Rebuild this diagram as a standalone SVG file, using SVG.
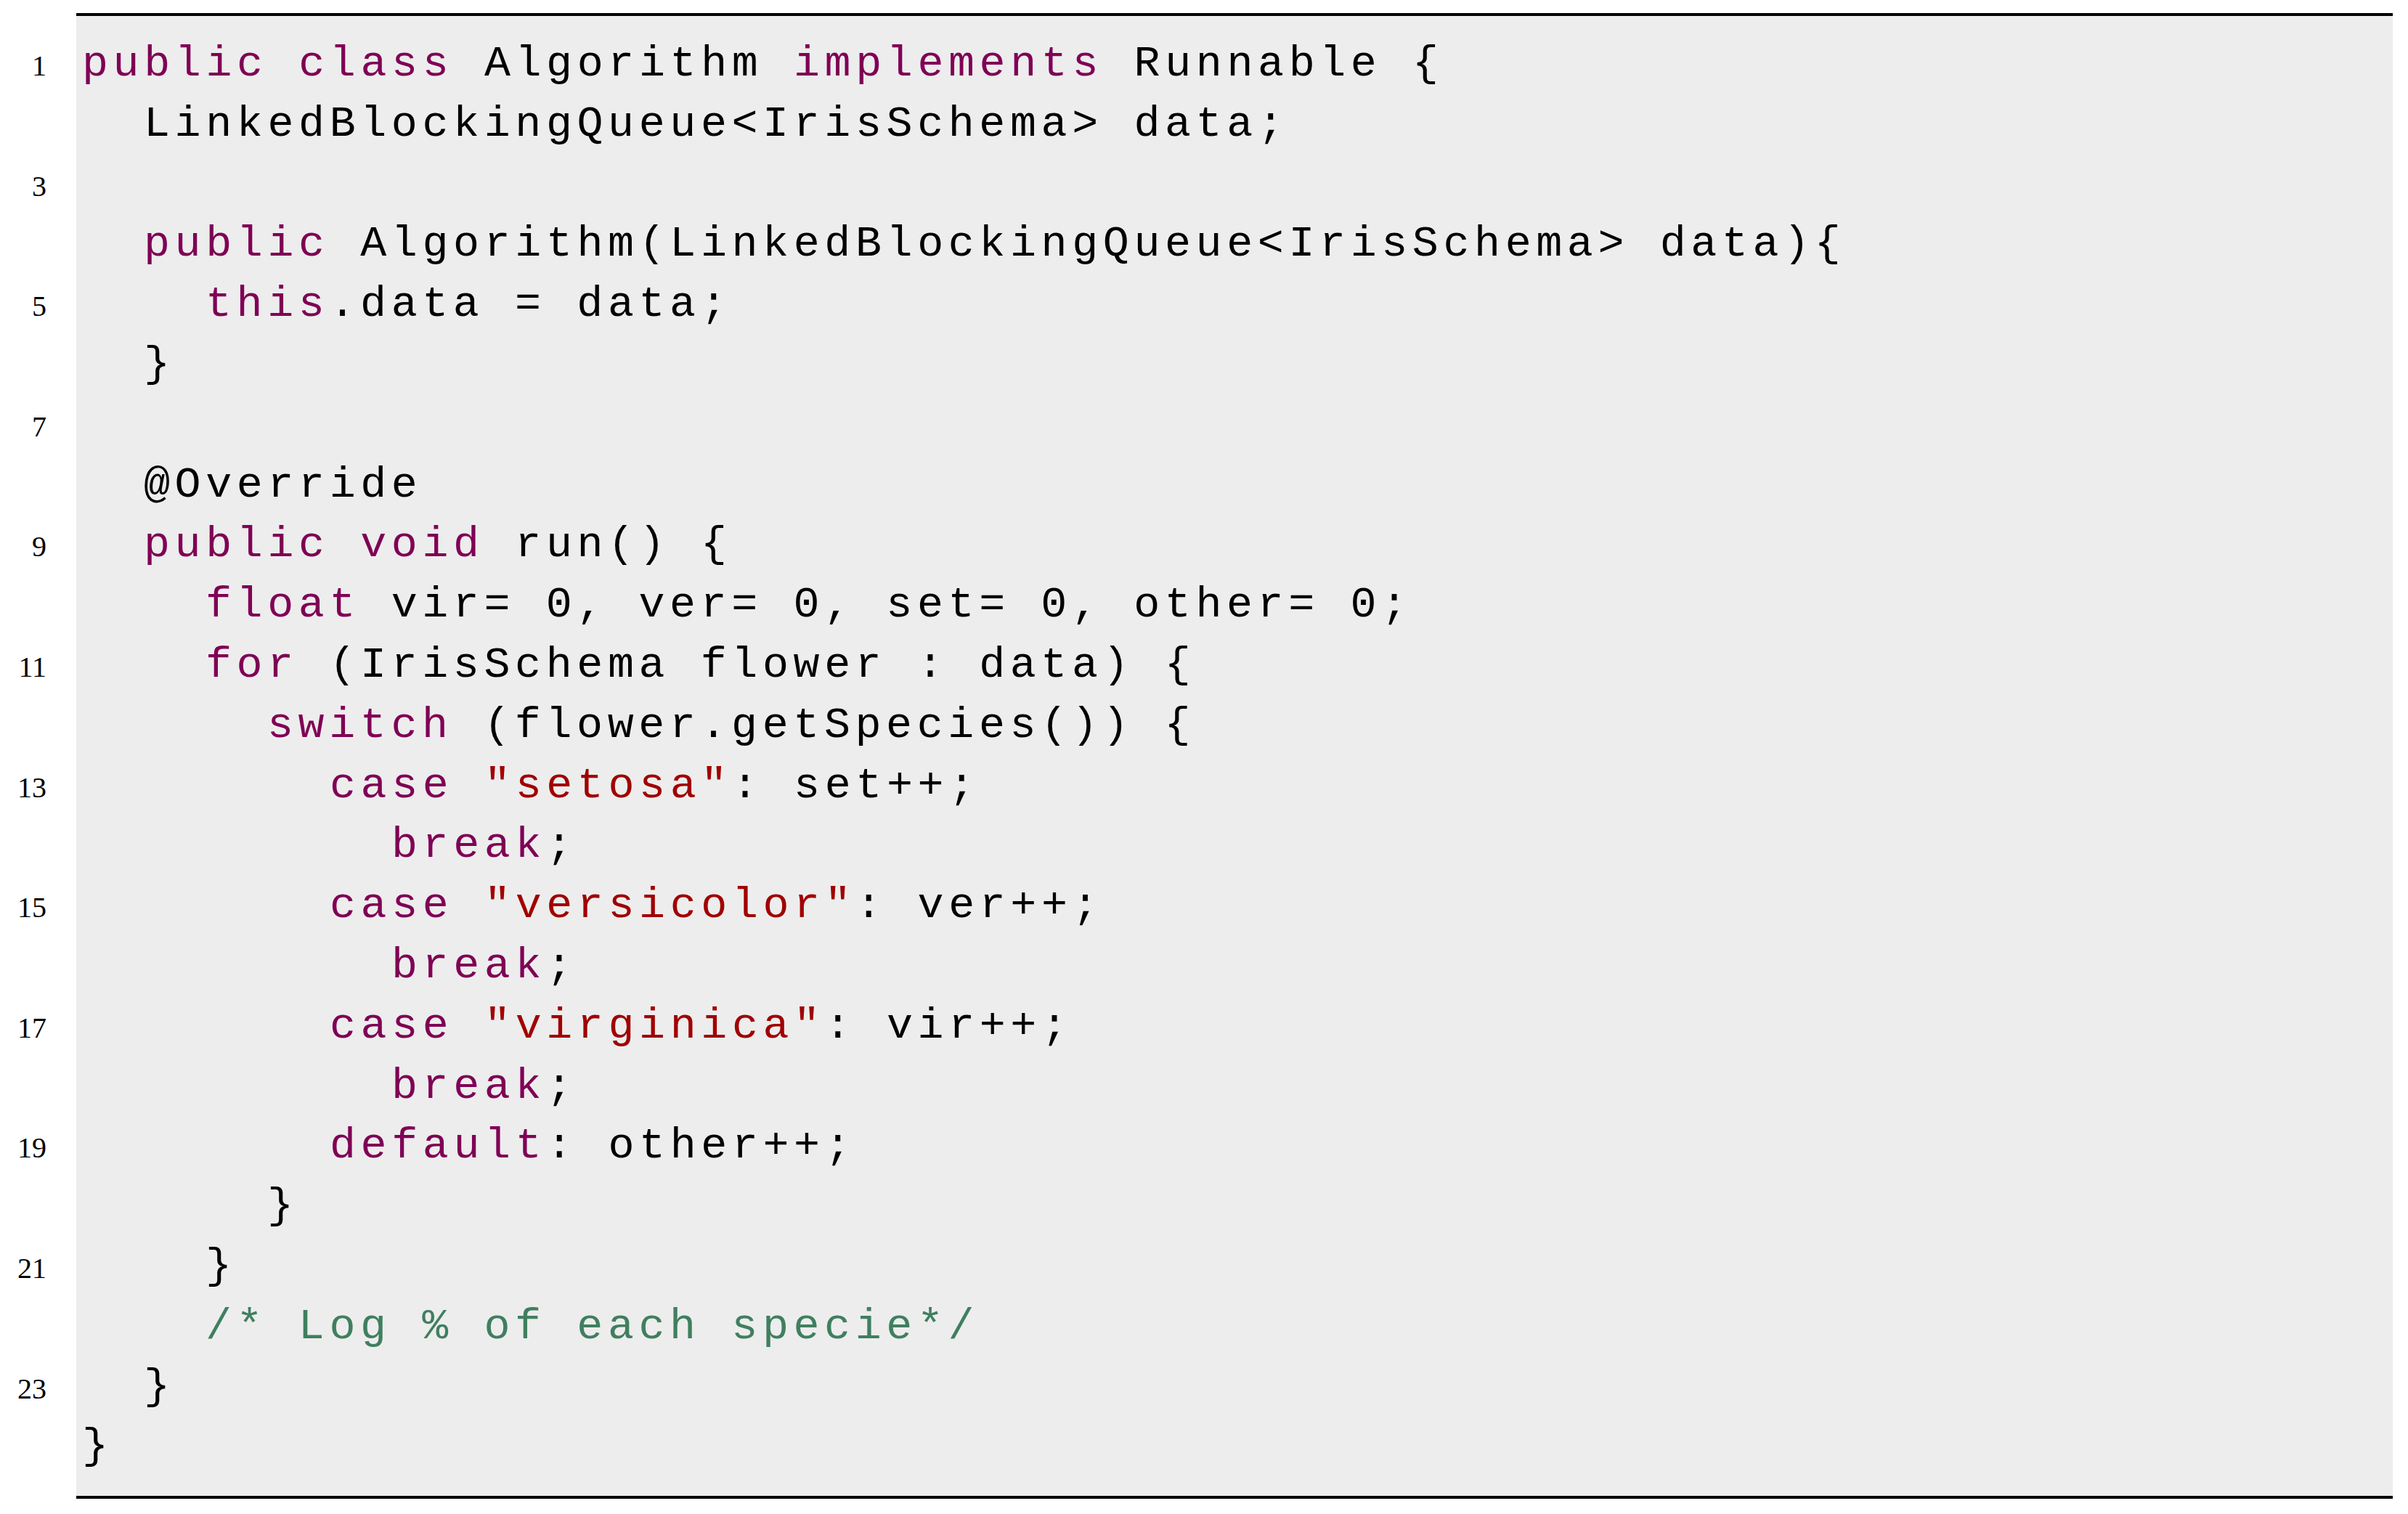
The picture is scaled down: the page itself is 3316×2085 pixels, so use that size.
<svg xmlns="http://www.w3.org/2000/svg" width="3316" height="2085" viewBox="0 0 3316 2085">
<style>
.c{font-family:"Liberation Mono",monospace;font-size:60px;letter-spacing:6.6px;fill:#000;white-space:pre}
.k{fill:#7f0055}.s{fill:#a00000}.m{fill:#3f7f5f}
.n{font-family:"Liberation Serif",serif;font-size:40px;fill:#000;text-anchor:end}
</style>
<rect x="105" y="20" width="3190" height="2042" fill="#ededed"/>
<line x1="105" y1="20" x2="3295" y2="20" stroke="#000" stroke-width="4"/>
<line x1="105" y1="2062" x2="3295" y2="2062" stroke="#000" stroke-width="4"/>
<g id="linenumbers">
<text class="n" x="64" y="104">1</text>
<text class="n" x="64" y="270">3</text>
<text class="n" x="64" y="435">5</text>
<text class="n" x="64" y="601">7</text>
<text class="n" x="64" y="766">9</text>
<text class="n" x="64" y="932">11</text>
<text class="n" x="64" y="1098">13</text>
<text class="n" x="64" y="1263">15</text>
<text class="n" x="64" y="1429">17</text>
<text class="n" x="64" y="1594">19</text>
<text class="n" x="64" y="1760">21</text>
<text class="n" x="64" y="1926">23</text>
</g>
<g id="code" xml:space="preserve">
<text class="c" x="113" y="104"><tspan class="k">public</tspan> <tspan class="k">class</tspan> Algorithm <tspan class="k">implements</tspan> Runnable {</text>
<text class="c" x="198" y="187">LinkedBlockingQueue&lt;IrisSchema&gt; data;</text>
<text class="c" x="198" y="352"><tspan class="k">public</tspan> Algorithm(LinkedBlockingQueue&lt;IrisSchema&gt; data){</text>
<text class="c" x="283" y="435"><tspan class="k">this</tspan>.data = data;</text>
<text class="c" x="198" y="518">}</text>
<text class="c" x="198" y="684">@Override</text>
<text class="c" x="198" y="766"><tspan class="k">public</tspan> <tspan class="k">void</tspan> run() {</text>
<text class="c" x="283" y="849"><tspan class="k">float</tspan> vir= 0, ver= 0, set= 0, other= 0;</text>
<text class="c" x="283" y="932"><tspan class="k">for</tspan> (IrisSchema flower : data) {</text>
<text class="c" x="368" y="1015"><tspan class="k">switch</tspan> (flower.getSpecies()) {</text>
<text class="c" x="454" y="1098"><tspan class="k">case</tspan> <tspan class="s">"setosa"</tspan>: set++;</text>
<text class="c" x="539" y="1180"><tspan class="k">break</tspan>;</text>
<text class="c" x="454" y="1263"><tspan class="k">case</tspan> <tspan class="s">"versicolor"</tspan>: ver++;</text>
<text class="c" x="539" y="1346"><tspan class="k">break</tspan>;</text>
<text class="c" x="454" y="1429"><tspan class="k">case</tspan> <tspan class="s">"virginica"</tspan>: vir++;</text>
<text class="c" x="539" y="1512"><tspan class="k">break</tspan>;</text>
<text class="c" x="454" y="1594"><tspan class="k">default</tspan>: other++;</text>
<text class="c" x="368" y="1677">}</text>
<text class="c" x="283" y="1760">}</text>
<text class="c m" x="283" y="1843">/* Log % of each specie*/</text>
<text class="c" x="198" y="1926">}</text>
<text class="c" x="113" y="2008">}</text>
</g>
</svg>
